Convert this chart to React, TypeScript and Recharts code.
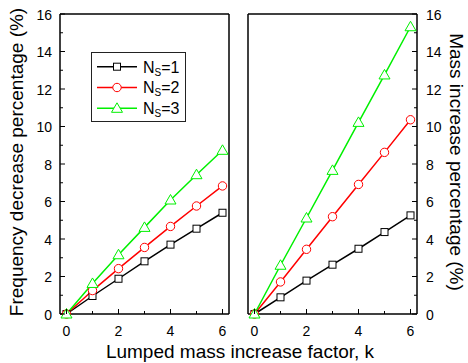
import React from 'react';
import { LineChart, Line, XAxis, YAxis, Legend, ReferenceLine } from 'recharts';

const kValues = [0, 1, 2, 3, 4, 5, 6];
const freqN1 = [0, 0.96, 1.88, 2.81, 3.7, 4.55, 5.4];
const freqN2 = [0, 1.25, 2.42, 3.55, 4.67, 5.76, 6.83];
const freqN3 = [0, 1.63, 3.16, 4.62, 6.08, 7.43, 8.73];
const massN1 = [0, 0.89, 1.78, 2.63, 3.48, 4.37, 5.26];
const massN2 = [0, 1.71, 3.45, 5.19, 6.91, 8.62, 10.36];
const massN3 = [0, 2.6, 5.12, 7.66, 10.22, 12.75, 15.32];

const xTicks = [0, 1, 2, 3, 4, 5, 6];
const yTicks = [0, 1, 2, 3, 4, 5, 6, 7, 8, 9, 10, 11, 12, 13, 14, 15, 16];
const seriesNames = ['1', '2', '3'];

const FONT = '"Liberation Sans", Arial, sans-serif';

const series = [
  { key: 'n1', color: '#000000', shape: 'square' },
  { key: 'n2', color: '#ff0000', shape: 'circle' },
  { key: 'n3', color: '#00f000', shape: 'triangle' },
];

const freqData = kValues.map((k, i) => ({ k, n1: freqN1[i], n2: freqN2[i], n3: freqN3[i] }));
const massData = kValues.map((k, i) => ({ k, n1: massN1[i], n2: massN2[i], n3: massN3[i] }));

const Marker = ({ shape, cx, cy, color }: any) => {
  if (shape === 'square')
    return <rect x={cx - 3.5} y={cy - 3.5} width={7} height={7} fill="#fff" stroke={color} strokeWidth={1} />;
  if (shape === 'circle') return <circle cx={cx} cy={cy} r={4.2} fill="#fff" stroke={color} strokeWidth={1} />;
  return (
    <polygon
      points={`${cx},${cy - 5.5} ${cx - 5.5},${cy + 4} ${cx + 5.5},${cy + 4}`}
      fill="#fff"
      stroke={color}
      strokeWidth={1}
    />
  );
};

const LeftTick = ({ x, y, payload }: any) => {
  const major = payload.value % 2 === 0;
  return (
    <g>
      <line x1={x} x2={x + (major ? 5 : 3)} y1={y} y2={y} stroke="#000" strokeWidth={1} />
      {major && (
        <text x={x - 8} y={y + 5.5} textAnchor="end" fontSize={14} fontFamily={FONT} fill="#000">
          {payload.value}
        </text>
      )}
    </g>
  );
};

const RightTick = ({ x, y, payload }: any) => {
  const major = payload.value % 2 === 0;
  return (
    <g>
      <line x1={x} x2={x - (major ? 5 : 3)} y1={y} y2={y} stroke="#000" strokeWidth={1} />
      {major && (
        <text x={x + 9} y={y + 5.5} textAnchor="start" fontSize={14} fontFamily={FONT} fill="#000">
          {payload.value}
        </text>
      )}
    </g>
  );
};

const BottomTick = ({ x, y, payload }: any) => {
  const major = payload.value % 2 === 0;
  return (
    <g>
      <line x1={x} x2={x} y1={y} y2={y - (major ? 5 : 3)} stroke="#000" strokeWidth={1} />
      {major && (
        <text x={x} y={y + 21.5} textAnchor="middle" fontSize={14} fontFamily={FONT} fill="#000">
          {payload.value}
        </text>
      )}
    </g>
  );
};

const LegendBox = () => (
  <svg width={95} height={70} style={{ display: 'block' }}>
    <rect x={0.5} y={0.5} width={94} height={69} fill="#fff" stroke="#222" strokeWidth={1} />
    {series.map((s, i) => {
      const cy = 14.7 + i * 20.8;
      return (
        <g key={s.key}>
          <line x1={6} x2={46} y1={cy} y2={cy} stroke={s.color} strokeWidth={1.5} />
          <Marker shape={s.shape} cx={26} cy={cy} color={s.color} />
          <text x={52} y={cy + 5.8} fontSize={16} fontFamily={FONT} fill="#000">
            N
            <tspan fontSize={10} dy={3}>S</tspan>
            <tspan dy={-3}>={seriesNames[i]}</tspan>
          </text>
        </g>
      );
    })}
  </svg>
);

const renderLines = () =>
  series.map((s) => (
    <Line
      key={s.key}
      type="linear"
      dataKey={s.key}
      stroke={s.color}
      strokeWidth={1.5}
      isAnimationActive={false}
      activeDot={false}
      dot={(p: any) => <Marker key={`${s.key}-${p.index}`} shape={s.shape} cx={p.cx} cy={p.cy} color={s.color} />}
    />
  ));

const App: React.FC = () => (
  <div style={{ position: 'absolute', left: 0, top: 0, width: 468, height: 363, background: '#fff' }}>
    <div style={{ position: 'absolute', left: 0, top: 0 }}>
      <LineChart width={240} height={363} data={freqData} margin={{ top: 14, right: 11, bottom: 0, left: 0 }}>
        <XAxis
          dataKey="k"
          type="number"
          domain={[-0.25, 6.25]}
          ticks={xTicks}
          interval={0}
          height={49}
          tickSize={0}
          tickMargin={0}
          tickLine={false}
          tick={<BottomTick />}
          axisLine={{ stroke: '#000', strokeWidth: 1.5 }}
        />
        <YAxis
          type="number"
          domain={[0, 16]}
          ticks={yTicks}
          interval={0}
          width={60}
          tickSize={0}
          tickMargin={0}
          tickLine={false}
          tick={<LeftTick />}
          axisLine={{ stroke: '#000', strokeWidth: 1.5 }}
        />
        <ReferenceLine y={16} stroke="#000" strokeWidth={1.5} />
        <ReferenceLine x={6.25} stroke="#000" strokeWidth={1.5} />
        {renderLines()}
        <Legend
          layout="vertical"
          align="center"
          verticalAlign="middle"
          content={() => <LegendBox />}
          wrapperStyle={{ left: 91, top: 52, width: 95, height: 70 }}
        />
      </LineChart>
    </div>
    <div style={{ position: 'absolute', left: 240, top: 0 }}>
      <LineChart width={228} height={363} data={massData} margin={{ top: 14, right: 0, bottom: 0, left: 8 }}>
        <XAxis
          dataKey="k"
          type="number"
          domain={[-0.25, 6.25]}
          ticks={xTicks}
          interval={0}
          height={49}
          tickSize={0}
          tickMargin={0}
          tickLine={false}
          tick={<BottomTick />}
          axisLine={{ stroke: '#000', strokeWidth: 1.5 }}
        />
        <YAxis
          orientation="right"
          type="number"
          domain={[0, 16]}
          ticks={yTicks}
          interval={0}
          width={51}
          tickSize={0}
          tickMargin={0}
          tickLine={false}
          tick={<RightTick />}
          axisLine={{ stroke: '#000', strokeWidth: 1.5 }}
        />
        <ReferenceLine y={16} stroke="#000" strokeWidth={1.5} />
        <ReferenceLine x={-0.25} stroke="#000" strokeWidth={1.5} />
        {renderLines()}
      </LineChart>
    </div>
    <svg
      width={468}
      height={363}
      style={{ position: 'absolute', left: 0, top: 0, pointerEvents: 'none' }}
    >
      <text
        transform="translate(23,162) rotate(-90)"
        textAnchor="middle"
        fontSize={19}
        fontFamily={FONT}
        fill="#000"
      >
        Frequency decrease percentage (%)
      </text>
      <text
        transform="translate(450,162) rotate(90)"
        textAnchor="middle"
        fontSize={19}
        fontFamily={FONT}
        fill="#000"
      >
        Mass increase percentage (%)
      </text>
      <text x={240} y={358} textAnchor="middle" fontSize={19} fontFamily={FONT} fill="#000">
        Lumped mass increase factor, k
      </text>
    </svg>
  </div>
);

export default App;
